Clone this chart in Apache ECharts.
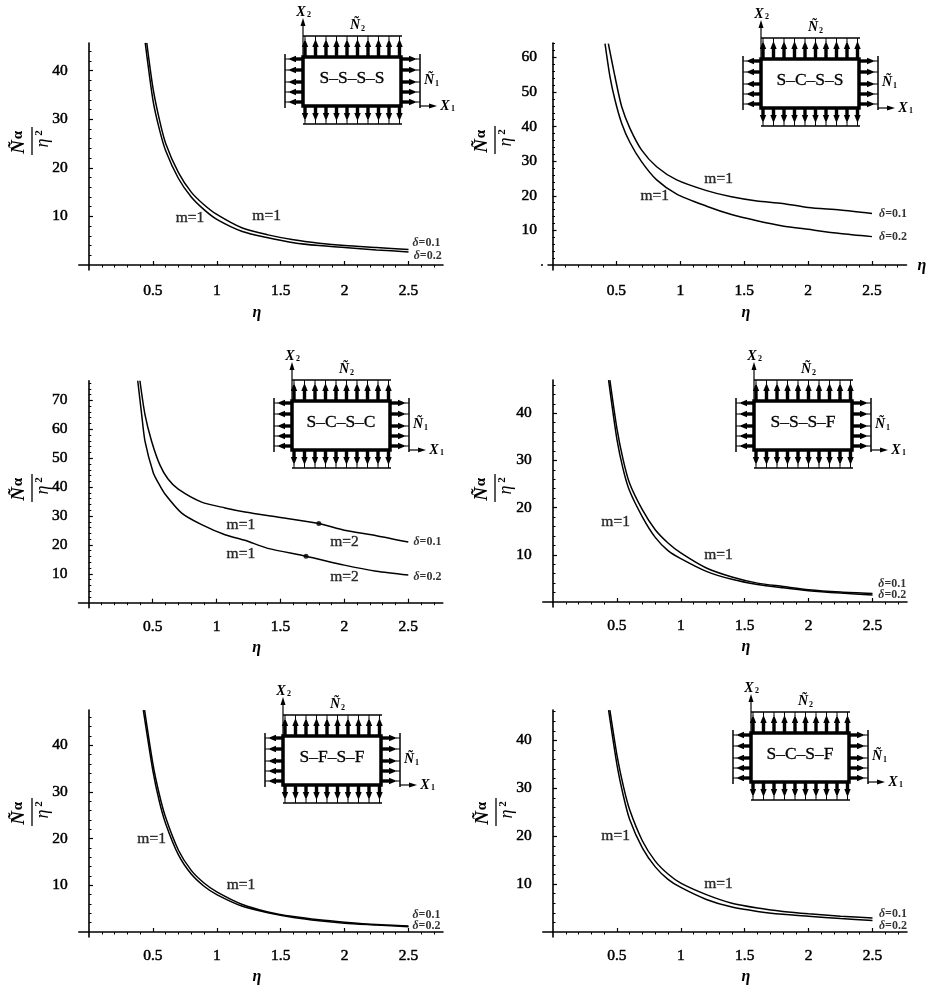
<!DOCTYPE html>
<html><head><meta charset="utf-8">
<style>html,body{margin:0;padding:0;background:#fff}#c{width:926px;height:985px}</style>
<script src="https://cdn.jsdelivr.net/npm/echarts@6/dist/echarts.min.js"></script>
</head><body><div id="c"></div>
<script>
// ---- tick values ----
const xMajor = [0.5, 1, 1.5, 2, 2.5];
const xMinor = [0.1,0.2,0.3,0.4,0.6,0.7,0.8,0.9,1.1,1.2,1.3,1.4,1.6,1.7,1.8,1.9,2.1,2.2,2.3,2.4,2.6,2.7];
const yMajorA = [10, 20, 30, 40];
const yMajorB = [10, 20, 30, 40, 50, 60];
const yMajorC = [10, 20, 30, 40, 50, 60, 70];
const yMinorFull = [2,4,6,8,12,14,16,18,22,24,26,28,32,34,36,38,42,44,46,48,52,54,56,58,62,64,66,68,72,74,76];

// ---- S-S-S-S ----
const p1EtaUp  = [0.452,0.5,0.55,0.6,0.7,0.8,0.9,1,1.2,1.4,1.6,1.8,2,2.25,2.5];
const p1Up     = [45.7,36.5,30,25,19,15,12.4,10.4,7.6,6.2,5.2,4.5,4,3.6,3.2];
const p1EtaLow = [0.44,0.5,0.55,0.6,0.7,0.8,0.9,1,1.2,1.4,1.6,1.8,2,2.25,2.5];
const p1Low    = [45.7,34,28,23.5,17.8,14,11.4,9.4,6.9,5.6,4.6,4,3.6,3.1,2.7];
// ---- S-C-S-S ----
const p2EtaUp  = [0.437,0.489,0.541,0.606,0.698,0.815,0.972,1.206,1.4,1.6,1.8,2,2.25,2.5];
const p2Up     = [64,54.4,45.8,39.5,33.2,28.4,24.6,21.5,19.7,18.5,17.8,16.6,15.9,14.9];
const p2EtaLow = [0.411,0.45,0.489,0.541,0.606,0.698,0.815,0.972,1.206,1.4,1.6,1.8,2,2.25,2.5];
const p2Low    = [64,54.4,47.7,41,35.4,29.8,24.6,20.5,17,14.6,12.8,11.3,10.3,9.1,8.2];
// ---- S-C-S-C ----
const p3EtaUp  = [0.40,0.44,0.492,0.557,0.62,0.70,0.883,1.066,1.222,1.5,1.8,2,2.25,2.5];
const p3Up     = [76.8,65,55.8,47.6,42.8,39.3,34.8,32.8,31.4,29.5,27.4,25.1,23.2,21];
const p3EtaLow = [0.383,0.414,0.44,0.505,0.55,0.596,0.727,0.883,1.066,1.222,1.4,1.7,2,2.25,2.5];
const p3Low    = [76.8,65,55.8,44.9,41,37.6,31,27,23.5,21.6,18.8,16.1,13,10.9,9.6];
const p3Dots   = [[1.8,27.4],[1.7,16.1]];
// ---- S-S-S-F ----
const p4EtaUp  = [0.445,0.5,0.55,0.6,0.7,0.8,0.9,1,1.2,1.4,1.6,1.8,2,2.25,2.5];
const p4Up     = [47,36.8,30,25.1,19.5,15.3,12.5,10.4,7.2,5.3,4,3.3,2.6,2.1,1.8];
const p4EtaLow = [0.435,0.5,0.55,0.6,0.7,0.8,0.9,1,1.2,1.4,1.6,1.8,2,2.25,2.5];
const p4Low    = [47,34.5,28,23.5,18,13.7,10.9,9.2,6.5,4.8,3.7,3,2.4,1.9,1.5];
// ---- S-F-S-F ----
const p5EtaUp  = [0.435,0.5,0.55,0.6,0.7,0.8,0.9,1,1.2,1.4,1.6,1.8,2,2.25,2.5];
const p5Up     = [47.5,36,29.5,24.5,17.5,13.2,10.5,8.6,5.9,4.3,3.3,2.6,2.1,1.6,1.3];
const p5EtaLow = [0.425,0.5,0.55,0.6,0.7,0.8,0.9,1,1.2,1.4,1.6,1.8,2,2.25,2.5];
const p5Low    = [47.5,34.5,28,23.2,16.5,12.4,9.8,8,5.5,4.1,3.1,2.4,1.9,1.5,1.1];
// ---- S-C-S-F ----
const p6EtaUp  = [0.445,0.5,0.55,0.6,0.7,0.8,0.9,1,1.2,1.4,1.6,1.8,2,2.25,2.5];
const p6Up     = [46.3,37,30.5,25.5,19,14.8,12.1,10.2,7.8,6,5,4.3,3.8,3.3,2.9];
const p6EtaLow = [0.435,0.5,0.55,0.6,0.7,0.8,0.9,1,1.2,1.4,1.6,1.8,2,2.25,2.5];
const p6Low    = [46.3,35,28.5,23.5,17.5,13.6,11,9.3,6.8,5.2,4.3,3.7,3.3,2.8,2.4];

// ---- on-chart notes: [eta, value, text] ----
const p1Notes = [[0.79,9.6,'m=1'],[1.39,10,'m=1']];
const p2Notes = [[1.3,25,'m=1'],[0.8,19.9,'m=1']];
const p3Notes = [[1.19,26.8,'m=1'],[1.19,17,'m=1'],[2,21,'m=2'],[2,9,'m=2']];
const p4Notes = [[0.49,17,'m=1'],[1.295,10,'m=1']];
const p5Notes = [[0.49,20,'m=1'],[1.19,10,'m=1']];
const p6Notes = [[0.49,20,'m=1'],[1.295,10.1,'m=1']];
const p1Delta = [[2.64,4.5,'δ=0.1'],[2.65,1.9,'δ=0.2']];
const p2Delta = [[2.665,14.9,'δ=0.1'],[2.665,8,'δ=0.2']];
const p3Delta = [[2.65,21,'δ=0.1'],[2.65,8.8,'δ=0.2']];
const p4Delta = [[2.655,3.8,'δ=0.1'],[2.655,1.4,'δ=0.2']];
const p5Delta = [[2.64,3.7,'δ=0.1'],[2.64,1.4,'δ=0.2']];
const p6Delta = [[2.66,3.8,'δ=0.1'],[2.66,1.3,'δ=0.2']];
const plateNames = ['S–S–S–S','S–C–S–S','S–C–S–C','S–S–S–F','S–F–S–F','S–C–S–F'];

// ---- layout (pixels) ----
const SCALE = 127.8, FONT = '"Liberation Serif","Times New Roman",serif';
const panels = [
 {x0:89,   base:265,   top:43,  per10:48.6, xMin:-0.08, yMajor:yMajorA, up:[p1EtaUp,p1Up], low:[p1EtaLow,p1Low], notes:p1Notes, delta:p1Delta, rect:[303,57], frac:[32,141], margin:13, nameGap:35, namePad:[0,8,0,0]},
 {x0:552.5,base:265,   top:43,  per10:34.6, xMin:-0.035,yMajor:yMajorB, up:[p2EtaUp,p2Up], low:[p2EtaLow,p2Low], notes:p2Notes, delta:p2Delta, rect:[761,59], frac:[495,140], margin:13, nameGap:35, namePad:[0,0,0,37]},
 {x0:88.8, base:602.7, top:380.7,per10:28.9,xMin:-0.08, yMajor:yMajorC, up:[p3EtaUp,p3Up], low:[p3EtaLow,p3Low], notes:p3Notes, delta:p3Delta, rect:[292,401], frac:[32,488], dots:p3Dots, margin:11, nameGap:32, namePad:[0,8,0,0]},
 {x0:553,  base:602,   top:380, per10:47.2, xMin:-0.08, yMajor:yMajorA, up:[p4EtaUp,p4Up], low:[p4EtaLow,p4Low], notes:p4Notes, delta:p4Delta, rect:[754,401], frac:[495,488], margin:11, nameGap:32, namePad:[0,0,0,42]},
 {x0:89,   base:932,   top:710, per10:46.7, xMin:-0.08, yMajor:yMajorA, up:[p5EtaUp,p5Up], low:[p5EtaLow,p5Low], notes:p5Notes, delta:p5Delta, rect:[283,736], frac:[32,812], margin:11, nameGap:32, namePad:[0,8,0,0]},
 {x0:553,  base:932,   top:710, per10:47.9, xMin:-0.08, yMajor:yMajorA, up:[p6EtaUp,p6Up], low:[p6EtaLow,p6Low], notes:p6Notes, delta:p6Delta, rect:[751,733], frac:[496,812], margin:11, nameGap:32, namePad:[0,0,0,42]}
];
const X_MAX = 2.77, BELOW = 5;

const zip = (xs, ys) => xs.map((x, i) => [x, ys[i]]);
const grid = [], xAxis = [], yAxis = [], series = [], graphic = [];

function tri(pts){ return {type:'polygon', silent:true, shape:{points:pts}, style:{fill:'#000'}}; }
function seg(x1,y1,x2,y2,w){ return {type:'line', silent:true, shape:{x1,y1,x2,y2}, style:{stroke:'#000', lineWidth:w}}; }
function txt(x,y,s,size,o){ return {type:'text', silent:true, x, y, style:{text:s, font:(o&&o.fs||'')+' '+size+'px '+FONT, fill:'#000', align:'center', verticalAlign:'middle', stroke:(o&&o.stroke)?'#000':null, lineWidth:(o&&o.stroke)||0}}; }

function inset(px, py, name){
  const W = 98, H = 49, out = [];
  const L = px, R = px + W, T = py, B = py + H;
  const topBar = T - 21, botBar = B + 18, leftBar = L - 18, rightBar = R + 19;
  out.push(seg(L, topBar, R + 1, topBar, 1.6), seg(L, botBar, R + 1, botBar, 1.6));
  out.push(seg(leftBar, T - 3, leftBar, B + 2, 1.5), seg(rightBar, T - 3, rightBar, B + 2, 1.5));
  for (let i = 0; i < 10; i++) {
    const x = L + 2 + i * 10.5;
    out.push(seg(x, T, x, topBar + 9, 3.4), seg(x, topBar, x, topBar + 4, 1));
    out.push(tri([[x, topBar + 3],[x - 3.2, topBar + 11],[x + 3.2, topBar + 11]]));
    out.push(seg(x, B, x, botBar - 9, 3.4), seg(x, botBar, x, botBar - 4, 1));
    out.push(tri([[x, botBar - 3],[x - 3.2, botBar - 11],[x + 3.2, botBar - 11]]));
  }
  [2, 13, 25, 35, 45].forEach(d => {
    const y = T + d;
    out.push(seg(L, y, leftBar + 9, y, 3.4), seg(leftBar, y, leftBar + 4, y, 1));
    out.push(tri([[leftBar + 3, y],[leftBar + 11, y - 3.2],[leftBar + 11, y + 3.2]]));
    out.push(seg(R, y, rightBar - 9, y, 3.4), seg(rightBar, y, rightBar - 4, y, 1));
    out.push(tri([[rightBar - 3, y],[rightBar - 11, y - 3.2],[rightBar - 11, y + 3.2]]));
  });
  out.push({type:'rect', silent:true, shape:{x:L, y:T, width:W, height:H}, style:{fill:'#fff', stroke:'#000', lineWidth:3.5}});
  out.push(txt(L + W/2, T + H/2 - 3, name, 17.5, {stroke:0.3}));
  out.push(seg(L, T, L, T - 34, 1.2), tri([[L, T - 39],[L - 2.5, T - 31],[L + 2.5, T - 31]]));
  out.push(seg(rightBar, B, rightBar + 12, B, 1.2), tri([[rightBar + 17, B],[rightBar + 9, B - 2.5],[rightBar + 9, B + 2.5]]));
  out.push(txt(L - 2, T - 45, 'X', 14, {fs:'italic bold'}), txt(L + 6, T - 42, '2', 8, {fs:'bold'}));
  out.push(txt(rightBar + 25, B, 'X', 14, {fs:'italic bold'}), txt(rightBar + 33, B + 3, '1', 8, {fs:'bold'}));
  out.push(txt(L + W/2 + 3, T - 32, 'Ñ', 14, {fs:'italic bold'}), txt(L + W/2 + 11, T - 28, '2', 8, {fs:'bold'}));
  out.push(txt(rightBar + 9, T + 23, 'Ñ', 14, {fs:'italic bold'}), txt(rightBar + 17, T + 27, '1', 8, {fs:'bold'}));
  return out;
}

function fraction(bx, cy){
  const out = [seg(bx, cy - 14, bx, cy + 14, 1.3)];
  const rot = (x, y, s, size, fs) => ({type:'text', silent:true, x, y, rotation:Math.PI/2,
    style:{text:s, font:(fs||'')+' '+size+'px '+FONT, fill:'#000', align:'center', verticalAlign:'middle'}});
  out.push(rot(bx - 13, cy + 6, 'Ñ', 19, 'italic bold'));
  out.push(rot(bx - 14, cy - 6, 'α', 15, 'bold'));
  out.push(rot(bx + 11, cy + 2, 'η', 18, 'italic'));
  out.push(rot(bx + 7, cy - 8, '2', 11, 'bold'));
  return out;
}

panels.forEach((p, i) => {
  const unit = p.per10 / 10;
  const yMax = (p.base - p.top) / unit, yMin = -BELOW / unit;
  grid.push({left:p.x0 + p.xMin * SCALE, width:(X_MAX - p.xMin) * SCALE, top:p.top, height:p.base + BELOW - p.top, outerBoundsMode:'none', containLabel:false});
  const axisStyle = {color:'#000', width:1.6};
  const lab = {color:'#000', fontFamily:FONT, fontSize:15.5, fontWeight:'normal', textBorderColor:'#000', textBorderWidth:0.5};
  xAxis.push({type:'value', gridIndex:i, min:p.xMin, max:X_MAX, splitLine:{show:false},
    name:'η', nameLocation:'middle', nameGap:p.nameGap, nameTextStyle:{color:'#000', fontFamily:FONT, fontSize:16, fontStyle:'italic', fontWeight:'bold', padding:p.namePad},
    axisLine:{onZero:true, lineStyle:axisStyle},
    axisTick:{inside:true, length:4, lineStyle:{color:'#000', width:1.2}, customValues:xMajor},
    axisLabel:Object.assign({margin:p.margin, customValues:xMajor, hideOverlap:false}, lab)});
  xAxis.push({type:'value', gridIndex:i, min:p.xMin, max:X_MAX, splitLine:{show:false},
    axisLine:{show:false, onZero:true},
    axisTick:{inside:true, length:2.5, lineStyle:{color:'#000', width:1}, customValues:xMinor},
    axisLabel:{show:false}});
  yAxis.push({type:'value', gridIndex:i, min:yMin, max:yMax, position:'left', splitLine:{show:false},
    axisLine:{onZero:true, lineStyle:axisStyle},
    axisTick:{inside:true, length:4, lineStyle:{color:'#000', width:1.2}, customValues:p.yMajor},
    axisLabel:Object.assign({margin:11, customValues:p.yMajor, hideOverlap:false}, lab)});
  yAxis.push({type:'value', gridIndex:i, min:yMin, max:yMax, position:'left', splitLine:{show:false},
    axisLine:{show:false, onZero:true},
    axisTick:{inside:true, length:2.5, lineStyle:{color:'#000', width:1}, customValues:yMinorFull.filter(v => v < yMax && !p.yMajor.includes(v))},
    axisLabel:{show:false}});
  const ax = {xAxisIndex:2*i, yAxisIndex:2*i};
  [p.up, p.low].forEach((c, k) => series.push(Object.assign({type:'line', name:'δ=0.' + (k+1), data:zip(c[0], c[1]),
    showSymbol:false, symbol:'none', smooth:0.25, clip:true, lineStyle:{color:'#000', width:1.5}, silent:true, z:3}, ax)));
  if (p.dots) series.push(Object.assign({type:'scatter', data:p.dots, symbolSize:5, itemStyle:{color:'#000'}, silent:true, z:4}, ax));
  series.push(Object.assign({type:'scatter', data:p.notes, symbolSize:0, silent:true, z:5, clip:false,
    label:{show:true, position:'inside', formatter:d => d.data[2], color:'#000', fontFamily:FONT, fontSize:15.5, fontWeight:'normal', textBorderColor:'#000', textBorderWidth:0.4}}, ax));
  series.push(Object.assign({type:'scatter', data:p.delta, symbolSize:0, silent:true, z:5, clip:false,
    label:{show:true, position:'inside', formatter:d => d.data[2].replace('δ', '{d|δ}'), color:'#000', fontFamily:FONT, fontSize:12, fontWeight:'bold',
      rich:{d:{fontStyle:'italic', fontWeight:'bold', fontSize:12, fontFamily:FONT, color:'#000'}}}}, ax));
  graphic.push(...inset(p.rect[0], p.rect[1], plateNames[i]), ...fraction(p.frac[0], p.frac[1]));
});
graphic.push(txt(922, 266, 'η', 16, {fs:'italic bold'}));
graphic.push({type:'circle', silent:true, shape:{cx:542, cy:265, r:1}, style:{fill:'#000'}});

const chart = echarts.init(document.getElementById('c'), null, {renderer:'canvas'});
chart.setOption({animation:false, backgroundColor:'#fff', grid, xAxis, yAxis, series, graphic, tooltip:{show:false}, legend:{show:false}});
</script></body></html>
